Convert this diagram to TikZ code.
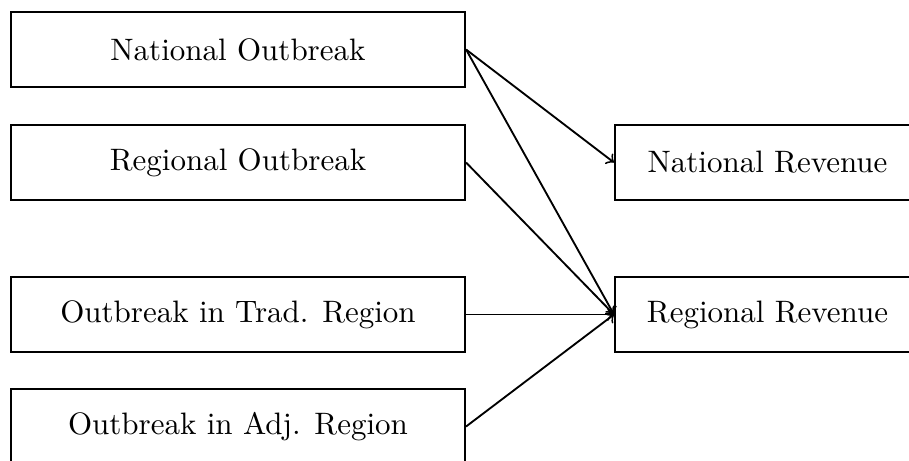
\documentclass[tikz,border=0pt]{standalone}
\begin{document}
\begin{tikzpicture}[x=0.01134cm, y=-0.01134cm, semithick,
	src/.style={draw, rectangle, minimum width=5.15cm, minimum height=0.85cm},
	dst/.style={draw, rectangle, minimum width=3.46cm, minimum height=0.85cm}]

\useasboundingbox (0,0) rectangle (909,460);
% causes
\node[src] (natout) at (238, 49.5) {National Outbreak};
\node[src] (regout) at (238, 162.5) {Regional Outbreak};
\node[src] (tradout) at (238, 314.5) {Outbreak in Trad. Region};
\node[src] (adjout) at (238, 426.5) {Outbreak in Adj. Region};
% effects
\node[dst] (natrev) at (767.5, 162.5) {National Revenue};
\node[dst] (regrev) at (767.5, 314.5) {Regional Revenue};
\foreach \a/\b in {natout/natrev, natout/regrev, regout/regrev, tradout/regrev, adjout/regrev}
	\draw[->] (\a.east) -- (\b.west);

\end{tikzpicture}
\end{document}
